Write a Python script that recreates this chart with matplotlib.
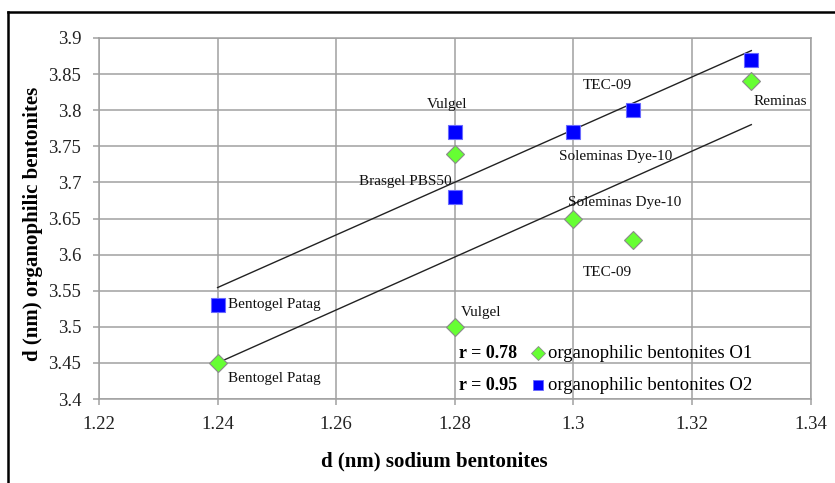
import numpy as np
import matplotlib
matplotlib.use("Agg")
import matplotlib.pyplot as plt
from matplotlib.lines import Line2D

plt.rcParams['font.family'] = ['Liberation Serif', 'DejaVu Serif']

# Data
x_sodium = [1.24, 1.28, 1.28, 1.30, 1.31, 1.33]
names = ["Bentogel Patag", "Vulgel", "Brasgel PBS50", "Soleminas Dye-10", "TEC-09", "Reminas"]
o1 = [3.45, 3.50, 3.74, 3.65, 3.62, 3.84]
o2 = [3.53, 3.77, 3.68, 3.77, 3.80, 3.87]
r_values = ["r = 0.78", "r = 0.95"]
series_names = ["organophilic bentonites O1", "organophilic bentonites O2"]
xticks = [1.22, 1.24, 1.26, 1.28, 1.30, 1.32, 1.34]
xtick_labels = ["1.22", "1.24", "1.26", "1.28", "1.3", "1.32", "1.34"]
yticks = [3.4, 3.45, 3.5, 3.55, 3.6, 3.65, 3.7, 3.75, 3.8, 3.85, 3.9]
ytick_labels = ["3.4", "3.45", "3.5", "3.55", "3.6", "3.65", "3.7", "3.75", "3.8", "3.85", "3.9"]

W, H = 835, 483
fig = plt.figure(figsize=(W / 100, H / 100), dpi=100)
ax = fig.add_axes([99 / W, 1 - 399 / H, (810.6 - 99) / W, (399 - 38) / H])

ax.set_xlim(1.22, 1.34)
ax.set_ylim(3.4, 3.9)
ax.set_xticks(xticks)
ax.set_xticklabels(xtick_labels)
ax.set_yticks(yticks)
ax.set_yticklabels(ytick_labels)
ax.grid(True, color='#a0a0a0', linewidth=1.1)
ax.set_axisbelow(True)
for s in ax.spines.values():
    s.set_color('#a0a0a0')
    s.set_linewidth(1.1)
ax.tick_params(axis='both', colors='#a0a0a0', length=4.3, width=1.1, labelsize=13.5, labelcolor='#222222')
ax.tick_params(axis='x', pad=8)
ax.tick_params(axis='y', pad=8.5)

# trend lines
xs = np.array(x_sodium)
for ys in (o1, o2):
    m, b = np.polyfit(xs, np.array(ys), 1)
    xl = np.array([xs.min(), xs.max()])
    ax.plot(xl, m * xl + b, color='#222222', linewidth=1.0, zorder=3)

ax.plot(x_sodium, o1, linestyle='none', marker='D', markersize=9.5, markerfacecolor='#66ff33',
        markeredgecolor='#8a8a8a', markeredgewidth=0.8, zorder=4)
ax.plot(x_sodium, o2, linestyle='none', marker='s', markersize=10, markerfacecolor='#0000ff',
        markeredgecolor='#6a6aff', markeredgewidth=0.8, zorder=5)

fs = 11
# labels: (index, dx, dy, ha) in pixels
o1_labels = [(0, 10, -16, 'left'), (1, 6, 14, 'left'), (3, -5, 16, 'left'), (4, -25, -32, 'center'), (5, 2, -20, 'left')]
o2_labels = [(0, 10, 1, 'left'), (1, -8, 27, 'center'), (2, -3, 15, 'right'), (3, -14, -25, 'left'), (4, -25, 25, 'center')]
for ys, labels in ((o1, o1_labels), (o2, o2_labels)):
    for i, dx, dy, ha in labels:
        ax.annotate(names[i], (x_sodium[i], ys[i]), xytext=(dx, dy), textcoords='offset pixels',
                    ha=ha, va='center', fontsize=fs, color='#111111', zorder=6)

ax.set_xlabel("d (nm) sodium bentonites", fontsize=15, fontweight='bold')
ax.xaxis.set_label_coords((434 - 99) / 711.6, -(461 - 399) / 361)
ax.xaxis.label.set_va('center')
ax.set_ylabel("d (nm) organophilic bentonites", fontsize=15, fontweight='bold')
ax.yaxis.set_label_coords((33 - 99) / 711.6, 1 - (224 - 38) / 361)
ax.yaxis.label.set_va('center')

# legend (drawn at figure pixel positions)
marker_styles = [dict(marker='D', markersize=7, markerfacecolor='#66ff33', markeredgecolor='#8a8a8a'),
                 dict(marker='s', markersize=7.5, markerfacecolor='#0000ff', markeredgecolor='#6a6aff')]
for k, (name, r, st) in enumerate(zip(series_names, r_values, marker_styles)):
    yy = 1 - (353 + 32 * k) / H
    fig.add_artist(Line2D([538 / W], [yy], linestyle='none', markeredgewidth=0.6, **st))
    fig.text(548 / W, yy, name, fontsize=13.5, va='center', ha='left')
    fig.text(459 / W, yy, r, fontsize=13, fontweight='bold', va='center', ha='left')

# outer frame (top and left)
fig.add_artist(Line2D([8 / W, 1.0], [1 - 12 / H, 1 - 12 / H], color='black', linewidth=1.8))
fig.add_artist(Line2D([8 / W, 8 / W], [0, 1 - 12 / H], color='black', linewidth=1.8))

fig.savefig("out.png", dpi=100)
